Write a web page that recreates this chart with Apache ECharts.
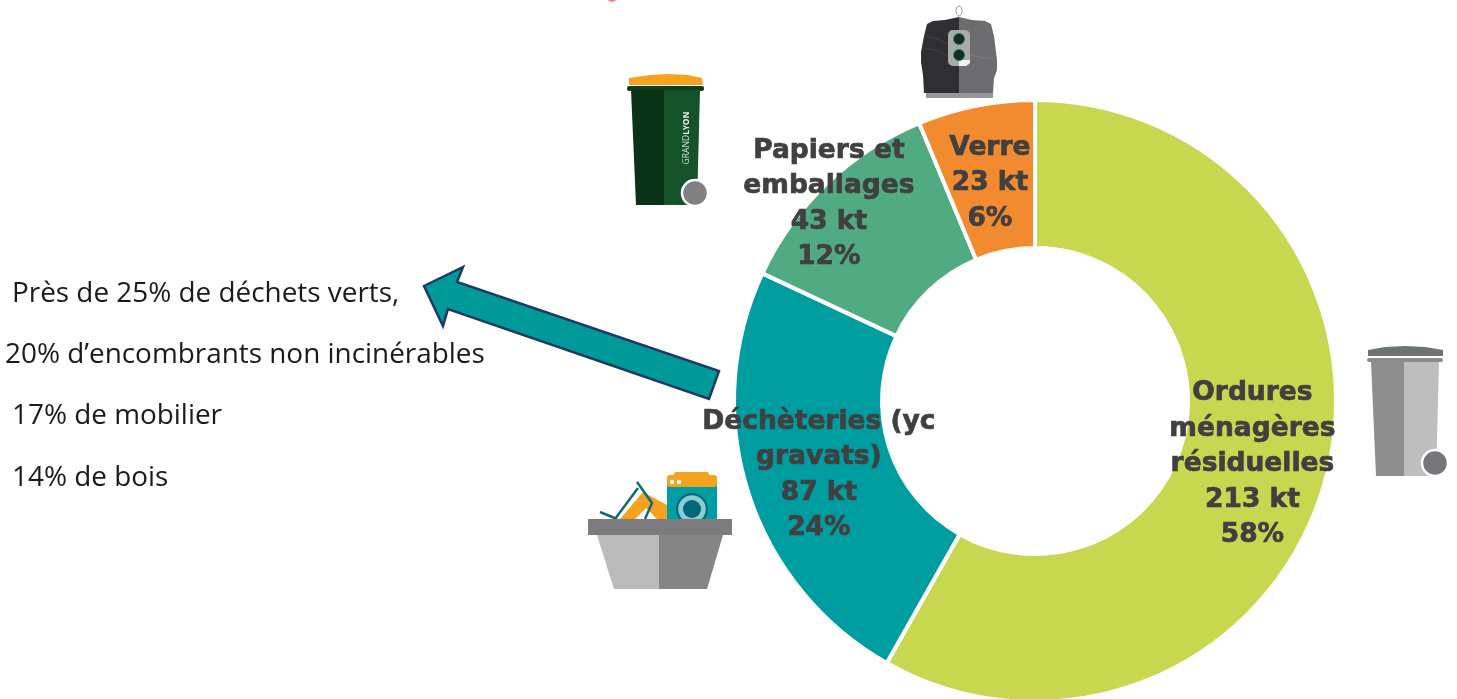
<!DOCTYPE html>
<html>
<head>
<meta charset="utf-8">
<style>
    html, body { margin: 0; padding: 0; background: #fff; }
    #chart { width: 1457px; height: 699px; }
</style>
<script src="https://cdn.jsdelivr.net/npm/echarts@6/dist/echarts.min.js"></script>
</head>
<body>
<div id="chart"></div>
<script>
// values in kilotonnes
const categories = ['Ordures\nménagères\nrésiduelles', 'Déchèteries (yc\ngravats)', 'Papiers et\nemballages', 'Verre'];
const tonnages = [213, 87, 43, 23];
const shares = [58, 24, 12, 6];
const sliceColors = ['#C8D750', '#009DA0', '#51AB82', '#F28A30'];
const notes = ['Près de 25% de déchets verts,', '20% d’encombrants non incinérables', '17% de mobilier', '14% de bois'];

const chart = echarts.init(document.getElementById('chart'));

function poly(points, fill, extra) {
    return Object.assign({ type: 'polygon', shape: { points }, style: { fill } }, extra);
}

function circle(cx, cy, r, fill, stroke, lineWidth) {
    return { type: 'circle', shape: { cx, cy, r }, style: { fill, stroke, lineWidth: lineWidth || 0 } };
}

function rect(x, y, width, height, fill, r) {
    return { type: 'rect', shape: { x, y, width, height, r: r || 0 }, style: { fill } };
}

function wire(points, stroke, lineWidth) {
    return { type: 'polyline', shape: { points }, style: { stroke, lineWidth, fill: null } };
}

// === left hand notes ===
const noteX = [12, 5, 12, 12];
const noteY = [294, 355, 416, 478];
const noteItems = notes.map((t, i) => ({
    type: 'text',
    x: noteX[i],
    y: noteY[i],
    style: { text: t, fill: '#1a1a1a', font: '27.9px "Open Sans"', textVerticalAlign: 'middle' }
}));

// === arrow ===
const arrow = poly(
    [[424, 286], [463, 267], [457, 282], [719, 371], [709, 399], [448, 309], [443, 326]],
    '#009999',
    { style: { fill: '#009999', stroke: '#1F3864', lineWidth: 2.5 } }
);

// === icons ===
// bottom of a cropped title letter at the top edge of the original
const croppedMark = [circle(612, -3, 5, '#FF7B7B')];

const greenBin = [
    poly([[629, 85], [629, 78], [650, 75], [668, 74], [688, 75], [702, 78], [703, 85]], '#F5A31E'),
    rect(627, 86, 77, 5, '#0E3D1F', 2),
    poly([[631, 90], [664, 90], [664, 205], [636, 205]], '#0B3318'),
    poly([[664, 90], [700, 90], [697, 205], [664, 205]], '#14522A'),
    {
        type: 'text', x: 687, y: 138, rotation: Math.PI / 2,
        style: {
            text: '{a|GRAND}{b|LYON}', fill: '#ccc', align: 'center', verticalAlign: 'middle',
            rich: {
                a: { font: '8.5px "Noto Sans"', fill: '#cfd8d0' },
                b: { font: 'bold 8.5px "Noto Sans"', fill: '#e8e8e8' }
            }
        }
    },
    circle(695, 193, 13, '#808083', '#fff', 2.5)
];

const glassBin = [
    { type: 'ellipse', shape: { cx: 959, cy: 11, rx: 3, ry: 5 }, style: { fill: null, stroke: '#999', lineWidth: 1 } },
    poly([[959, 17], [945, 20], [933, 21], [927, 24], [924, 36], [921, 52], [921, 62], [923, 75], [924, 93], [959, 93]], '#2F2E33'),
    poly([[959, 17], [972, 20], [985, 21], [991, 24], [994, 36], [997, 60], [997, 70], [994, 78], [993, 93], [959, 93]], '#6D6D70'),
    wire([[925, 36], [935, 38], [948, 44]], '#3F3F44', 1),
    wire([[923, 48], [935, 50], [948, 56]], '#3F3F44', 1),
    wire([[970, 55], [985, 58], [996, 58]], '#7C7C80', 1),
    rect(926, 93, 67, 5, '#97979B'),
    rect(948, 30, 22, 36, '#A9ABAB', 5),
    poly([[959, 60], [970, 60], [970, 63], [966, 66], [959, 66]], '#F2F2F2'),
    circle(959, 39, 5.5, '#1B2A24', '#0F8A55', 1),
    circle(959, 55, 5.5, '#1B2A24', '#0F8A55', 1)
];

const basket = [
    poly([[620, 519], [643, 492], [667, 505], [667, 519], [657, 519], [646, 508], [635, 519]], '#F5A31E'),
    wire([[600, 512], [617, 519]], '#0F6B78', 2.5),
    wire([[615, 519], [638, 488]], '#0F6B78', 2.5),
    wire([[637, 482], [652, 503], [645, 519]], '#0F6B78', 2.5),
    rect(667, 485, 50, 34, '#009DA5'),
    rect(667, 475, 50, 12, '#F5A31E', 3),
    rect(674, 472, 35, 6, '#F5A31E', 2),
    circle(672, 482, 2.2, '#fff'),
    circle(679, 482, 2.2, '#fff'),
    circle(692, 509, 16, '#006A7A'),
    circle(692, 509, 13.8, '#8DCBD0'),
    circle(692, 509, 9, '#00687A'),
    rect(588, 519, 144, 16, '#7B7B80'),
    poly([[597, 535], [659, 535], [659, 589], [614, 589]], '#BBBBBB'),
    poly([[659, 535], [723, 535], [707, 589], [659, 589]], '#858585')
];

const greyBin = [
    poly([[1368, 356], [1368, 350], [1385, 347], [1405, 346], [1425, 347], [1443, 350], [1443, 356]], '#6D7375'),
    rect(1367, 358, 76, 4, '#8C8C8C', 2),
    poly([[1371, 362], [1404, 362], [1404, 476], [1376, 476]], '#8E8E8E'),
    poly([[1404, 362], [1439, 362], [1436, 476], [1404, 476]], '#BEBEBE'),
    circle(1435, 463, 13, '#77777B', '#fff', 2.5)
];

// labels are a few pixels off the middle of each slice in the original
const labelDx = [-5, 3, -47, 0];
const labelDy = [5, 4, -31, 8];

chart.setOption({
    backgroundColor: '#fff',
    animation: false,
    color: sliceColors,
    graphic: { elements: [...noteItems, arrow, ...croppedMark, ...greenBin, ...glassBin, ...basket, ...greyBin] },
    series: [{
        type: 'pie',
        center: [1035, 401],
        radius: [153, 301],
        startAngle: 90,
        clockwise: true,
        avoidLabelOverlap: false,
        itemStyle: { borderColor: '#fff', borderWidth: 4 },
        label: {
            show: true,
            position: 'inside',
            color: '#404040',
            fontFamily: 'DejaVu Sans',
            fontWeight: 'bold',
            fontSize: 26.5,
            lineHeight: 35.5,
            align: 'center',
            textBorderColor: '#404040',
            textBorderWidth: 0.7,
            formatter: p => `${p.name}\n${p.value} kt\n${shares[p.dataIndex]}%`
        },
        labelLine: { show: false },
        labelLayout: p => ({ dx: labelDx[p.dataIndex], dy: labelDy[p.dataIndex] }),
        data: categories.map((name, i) => ({ name, value: tonnages[i] }))
    }]
});
</script>
</body>
</html>
